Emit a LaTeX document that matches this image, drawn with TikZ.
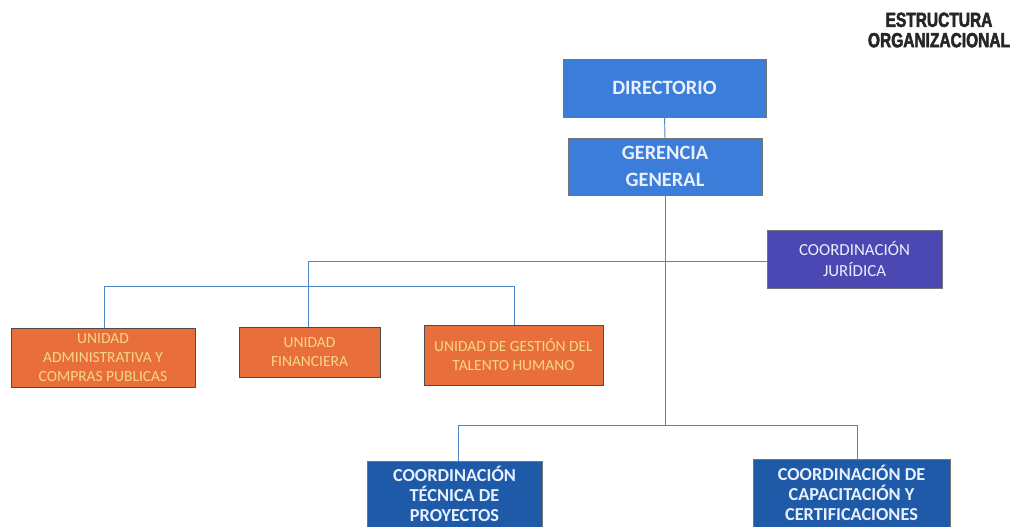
\documentclass[tikz,border=0pt]{standalone}
\usepackage{fontspec}
\setmainfont{Carlito}
\newfontfamily\titlefont[FakeStretch=0.76,FakeBold=2.5]{Liberation Sans}
\usepackage{xcolor}
\usetikzlibrary{positioning, calc}
\definecolor{mTopBlue}{HTML}{3B7DD8}
\definecolor{mJurBlue}{HTML}{4B48B3}
\definecolor{mOrange}{HTML}{E86F3C}
\definecolor{mDarkBlue}{HTML}{1E5AA8}
\definecolor{mLine}{HTML}{4F86C6}
\definecolor{mPaleText}{HTML}{E8F0FF}
\definecolor{mGoldText}{HTML}{F6D68C}

\begin{document}
\begin{tikzpicture}[
    x=0.025cm, y=-0.025cm,
    box/.style={rectangle, draw=black!55, line width=0.5pt, inner sep=0pt, align=center, text=mPaleText},
    sz/.style 2 args={minimum width=#1*0.025cm, minimum height=#2*0.025cm},
    topbox/.style={box, fill=mTopBlue, font=\fontsize{14.5}{19}\selectfont\bfseries},
    jurbox/.style={box, fill=mJurBlue, font=\fontsize{12}{15.5}\selectfont},
    unitbox/.style={box, fill=mOrange, draw=black!70, text=mGoldText, font=\fontsize{11}{13.5}\selectfont},
    coordbox/.style={box, fill=mDarkBlue, font=\fontsize{13}{14.2}\selectfont\bfseries},
    link/.style={mLine, line width=0.7pt}
]
    \useasboundingbox (0,0) rectangle (1025,526);

    % title
    \node[font=\fontsize{14.5}{14.5}\selectfont\titlefont\bfseries, align=center, text=black!85] (title) at (939,30) {ESTRUCTURA\\ORGANIZACIONAL};

    % boxes
    \node[topbox, sz={203}{58}] (dir) at (664.5,88) {DIRECTORIO};
    \node[topbox, sz={194}{57}] (ger) at (665,166.5) {GERENCIA\\GENERAL};
    \node[jurbox, sz={175}{58}] (jur) at (854.5,259) {COORDINACIÓN\\JURÍDICA};
    \node[unitbox, sz={184}{59}] (adm) at (103,357.5) {UNIDAD\\ADMINISTRATIVA Y\\COMPRAS PUBLICAS};
    \node[unitbox, sz={141}{50}] (fin) at (309.5,352) {UNIDAD\\FINANCIERA};
    \node[unitbox, sz={179}{60}] (tal) at (513.5,355) {UNIDAD DE GESTIÓN DEL\\TALENTO HUMANO};
    \node[coordbox, sz={175}{66}] (tec) at (454.5,494) {COORDINACIÓN\\TÉCNICA DE\\PROYECTOS};
    \node[coordbox, sz={197}{68}] (cap) at (851.5,493) {COORDINACIÓN DE\\CAPACITACIÓN Y\\CERTIFICACIONES};

    % bus points
    \coordinate (upL) at (308,261);
    \coordinate (midL) at (104,286);
    \coordinate (midR) at (514,286);
    \coordinate (busL) at (458,425);
    \coordinate (busR) at (857,425);

    % connectors
    \draw[link] (dir) -- (ger);
    \draw[link] (ger) -- (ger |- busL);
    \draw[link] (jur.west |- upL) -- (upL) -- (upL |- fin.north);
    \draw[link] (adm.north -| midL) -- (midL) -- (midR) -- (midR |- tal.north);
    \draw[link] (busL |- tec.north) -- (busL) -- (busR) -- (busR |- cap.north);
\end{tikzpicture}
\end{document}
